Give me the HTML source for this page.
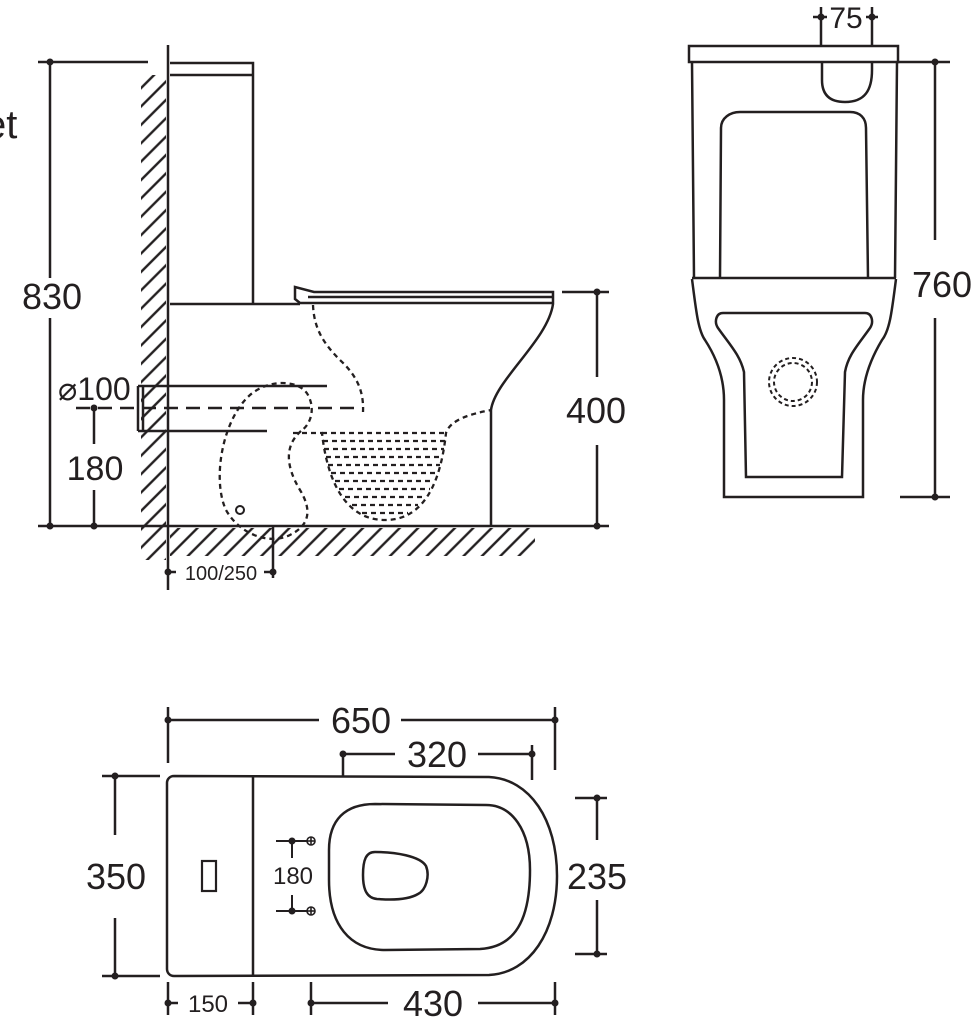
<!DOCTYPE html>
<html><head><meta charset="utf-8"><style>
html,body{margin:0;padding:0;background:#fff;}
svg{display:block;}
text{font-family:"Liberation Sans",Arial,sans-serif;fill:#231f20;}
</style></head><body>
<svg width="973" height="1024" viewBox="0 0 973 1024" xmlns="http://www.w3.org/2000/svg">
<defs>
<pattern id="h" patternUnits="userSpaceOnUse" width="13" height="13" patternTransform="rotate(45)">
<line x1="6" y1="0" x2="6" y2="13" stroke="#231f20" stroke-width="2.4"/>
</pattern>
</defs>
<g stroke="#231f20" stroke-width="2.5" fill="none" stroke-linecap="butt">
<rect x="141" y="75" width="25" height="485" fill="url(#h)" stroke="none"/>
<rect x="170" y="528" width="365" height="28" fill="url(#h)" stroke="none"/>
<line x1="168" y1="45" x2="168" y2="590"/>
<line x1="38" y1="62" x2="148" y2="62"/>
<line x1="50" y1="62" x2="50" y2="278"/>
<line x1="50" y1="318" x2="50" y2="526"/>
<line x1="38" y1="526" x2="609" y2="526"/>
<path d="M170,63 L253,63 L253,304"/>
<line x1="170" y1="75" x2="253" y2="75"/>
<line x1="170" y1="304" x2="300" y2="304"/>
<path d="M295,287 L295,299 L300,303 L553,303 L553,292 L314,292 L295,287 Z"/>
<line x1="308" y1="297" x2="553" y2="297"/>
<path d="M553,304 C548,340 495,380 491,410 L491,526"/>
<line x1="138" y1="386" x2="327" y2="386"/>
<line x1="138" y1="431" x2="267" y2="431"/>
<line x1="138" y1="386" x2="138" y2="431"/>
<line x1="143" y1="386" x2="143" y2="431"/>
<line x1="76" y1="408" x2="355" y2="408" stroke-dasharray="14,8"/>
<line x1="94" y1="408" x2="94" y2="444"/>
<line x1="94" y1="490" x2="94" y2="526"/>
<line x1="562" y1="292" x2="609" y2="292"/>
<line x1="597" y1="292" x2="597" y2="377"/>
<line x1="597" y1="445" x2="597" y2="526"/>
<line x1="273" y1="526" x2="273" y2="578"/>
<line x1="168" y1="572" x2="176" y2="572"/>
<line x1="264" y1="572" x2="273" y2="572"/>
<g stroke-dasharray="5,4" stroke-width="2.3">
<path d="M313,305 C314,330 325,345 340,360 C356,375 364,390 363,412"/>
<path d="M293,433 L322,433 C326,470 340,520 385,520 C430,520 442,470 446,433 C450,420 470,414 491,410"/>
<path d="M301,431 C285,445 285,465 300,490 C312,510 310,525 290,535 C270,545 240,535 226,510 C212,480 222,420 250,395 C270,378 300,380 308,395 C316,410 310,425 301,431"/>
<line x1="322" y1="433" x2="446" y2="433"/>
<line x1="323" y1="441" x2="445" y2="441"/>
<line x1="324" y1="449" x2="444" y2="449"/>
<line x1="326" y1="457" x2="442" y2="457"/>
<line x1="328" y1="465" x2="440" y2="465"/>
<line x1="331" y1="473" x2="437" y2="473"/>
<line x1="335" y1="481" x2="434" y2="481"/>
<line x1="339" y1="489" x2="430" y2="489"/>
<line x1="345" y1="497" x2="425" y2="497"/>
<line x1="352" y1="505" x2="418" y2="505"/>
<line x1="362" y1="513" x2="408" y2="513"/>
</g>
<circle cx="240" cy="510" r="4" stroke-width="2"/>
<line x1="821" y1="7" x2="821" y2="46"/>
<line x1="872" y1="7" x2="872" y2="46"/>
<line x1="813" y1="17" x2="827" y2="17"/>
<line x1="866" y1="17" x2="878" y2="17"/>
<rect x="689" y="46" width="209" height="16"/>
<path d="M692,62 L694,278 M897,62 L895,278"/>
<path d="M822,62 L822,80 C822,95 830,102 845,102 C865,102 872,90 872,70 L872,62"/>
<path d="M720,278 L721,128 C721,118 730,112 740,112 L850,112 C860,112 866,118 866,128 L868,278"/>
<line x1="692" y1="278" x2="896" y2="278"/>
<path d="M692,279 C696,310 698,330 705,340 C718,360 724,380 724,400 L724,497 L863,497 L863,400 C863,380 870,360 882,340 C890,330 892,310 896,279"/>
<path d="M723,313 L865,313 C872,313 874,322 870,328 C858,345 848,355 845,372 L842,477 L746,477 L744,372 C740,355 730,345 718,328 C714,322 716,313 723,313 Z"/>
<circle cx="793" cy="382" r="24" stroke-dasharray="4,3" stroke-width="2"/>
<circle cx="793" cy="382" r="19" stroke-dasharray="4,3" stroke-width="2"/>
<line x1="898" y1="62" x2="950" y2="62"/>
<line x1="935" y1="62" x2="935" y2="240"/>
<line x1="935" y1="318" x2="935" y2="497"/>
<line x1="900" y1="497" x2="950" y2="497"/>
<line x1="168" y1="707" x2="168" y2="763"/>
<line x1="555" y1="707" x2="555" y2="770"/>
<line x1="168" y1="720" x2="319" y2="720"/>
<line x1="401" y1="720" x2="555" y2="720"/>
<line x1="343" y1="754" x2="343" y2="777"/>
<line x1="532" y1="745" x2="532" y2="780"/>
<line x1="343" y1="754" x2="395" y2="754"/>
<line x1="478" y1="754" x2="532" y2="754"/>
<path d="M174,776 L489,777 C530,779 557,820 557,876 C557,932 530,973 489,975 L174,976 C170,976 167,973 167,969 L167,783 C167,779 170,776 174,776 Z"/>
<line x1="253" y1="777" x2="253" y2="976"/>
<path d="M375,804 L486,805 C512,805 530,830 530,870 C530,920 515,947 480,949 L385,950 C350,950 329,925 329,880 L329,850 C329,820 345,804 375,804 Z"/>
<path d="M375,852 C395,852 420,856 426,866 C430,876 426,890 418,894 C408,900 390,900 377,899 C367,898 363,890 363,875 C363,860 366,852 375,852 Z"/>
<rect x="202" y="861" width="14" height="30" stroke-width="2.2"/>
<line x1="276" y1="841" x2="308" y2="841" stroke-width="2"/>
<line x1="276" y1="911" x2="308" y2="911" stroke-width="2"/>
<line x1="292" y1="841" x2="292" y2="858" stroke-width="2"/>
<line x1="292" y1="895" x2="292" y2="911" stroke-width="2"/>
<g stroke-width="1.6"><circle cx="311" cy="841" r="4"/><line x1="307" y1="841" x2="315" y2="841"/><line x1="311" y1="837" x2="311" y2="845"/>
<circle cx="311" cy="911" r="4"/><line x1="307" y1="911" x2="315" y2="911"/><line x1="311" y1="907" x2="311" y2="915"/></g>
<line x1="102" y1="776" x2="160" y2="776"/>
<line x1="102" y1="976" x2="160" y2="976"/>
<line x1="115" y1="776" x2="115" y2="835"/>
<line x1="115" y1="918" x2="115" y2="976"/>
<line x1="575" y1="798" x2="607" y2="798"/>
<line x1="575" y1="954" x2="607" y2="954"/>
<line x1="597" y1="798" x2="597" y2="840"/>
<line x1="597" y1="900" x2="597" y2="954"/>
<line x1="168" y1="982" x2="168" y2="1015"/>
<line x1="253" y1="982" x2="253" y2="1015"/>
<line x1="168" y1="1003" x2="178" y2="1003"/>
<line x1="238" y1="1003" x2="253" y2="1003"/>
<line x1="311" y1="982" x2="311" y2="1015"/>
<line x1="555" y1="982" x2="555" y2="1015"/>
<line x1="311" y1="1003" x2="388" y2="1003"/>
<line x1="478" y1="1003" x2="555" y2="1003"/>
</g>
<g fill="#231f20">
<circle cx="50" cy="62" r="3.5"/><circle cx="50" cy="526" r="3.5"/>
<circle cx="94" cy="408" r="3.5"/><circle cx="94" cy="526" r="3.5"/>
<circle cx="597" cy="292" r="3.5"/><circle cx="597" cy="526" r="3.5"/>
<circle cx="168" cy="572" r="3.5"/><circle cx="273" cy="572" r="3.5"/>
<circle cx="821" cy="17" r="3.5"/><circle cx="872" cy="17" r="3.5"/>
<circle cx="935" cy="62" r="3.5"/><circle cx="935" cy="497" r="3.5"/>
<circle cx="168" cy="720" r="3.5"/><circle cx="555" cy="720" r="3.5"/>
<circle cx="343" cy="754" r="3.5"/><circle cx="532" cy="754" r="3.5"/>
<circle cx="115" cy="776" r="3.5"/><circle cx="115" cy="976" r="3.5"/>
<circle cx="597" cy="798" r="3.5"/><circle cx="597" cy="954" r="3.5"/>
<circle cx="292" cy="841" r="3.5"/><circle cx="292" cy="911" r="3.5"/>
<circle cx="168" cy="1003" r="3.5"/><circle cx="253" cy="1003" r="3.5"/>
<circle cx="311" cy="1003" r="3.5"/><circle cx="555" cy="1003" r="3.5"/>
</g>
<text x="-16" y="138" font-size="40">et</text>
<text x="52" y="309" font-size="36" text-anchor="middle">830</text>
<text x="58" y="400" font-size="32">⌀100</text>
<text x="95" y="480" font-size="34" text-anchor="middle">180</text>
<text x="596" y="423" font-size="36" text-anchor="middle">400</text>
<text x="221" y="580" font-size="20" text-anchor="middle">100/250</text>
<text x="846" y="28" font-size="30" text-anchor="middle">75</text>
<text x="942" y="297" font-size="36" text-anchor="middle">760</text>
<text x="361" y="733" font-size="36" text-anchor="middle">650</text>
<text x="437" y="767" font-size="36" text-anchor="middle">320</text>
<text x="116" y="889" font-size="36" text-anchor="middle">350</text>
<text x="293" y="884" font-size="24" text-anchor="middle">180</text>
<text x="597" y="889" font-size="36" text-anchor="middle">235</text>
<text x="208" y="1012" font-size="24" text-anchor="middle">150</text>
<text x="433" y="1016" font-size="36" text-anchor="middle">430</text>
</svg>
</body></html>
